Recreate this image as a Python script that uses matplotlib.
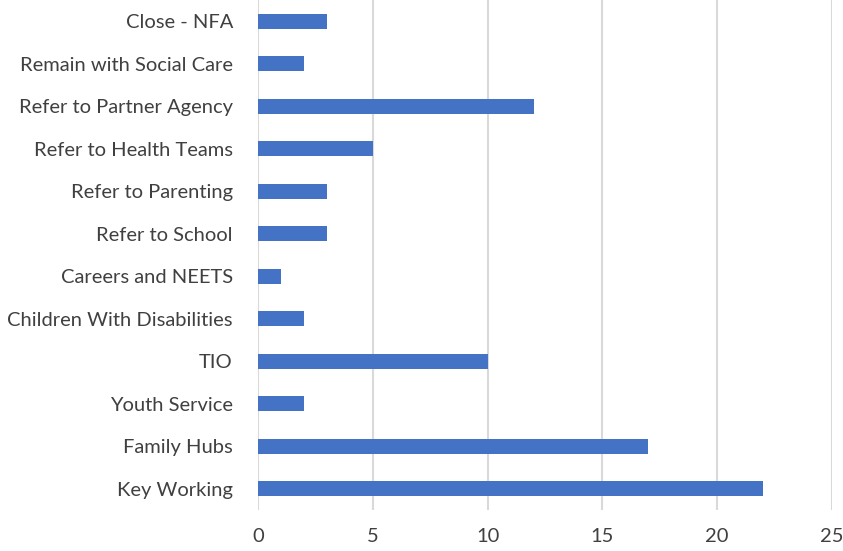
import matplotlib
matplotlib.use('Agg')
from matplotlib import pyplot as plt

plt.rcParams['font.family'] = ['Lato', 'DejaVu Sans']

categories = ['Key Working', 'Family Hubs', 'Youth Service', 'TIO',
              'Children With Disabilities', 'Careers and NEETS',
              'Refer to School', 'Refer to Parenting', 'Refer to Health Teams',
              'Refer to Partner Agency', 'Remain with Social Care', 'Close - NFA']
counts = [22, 17, 2, 10, 2, 1, 3, 3, 5, 12, 2, 3]
x_ticks = [0, 5, 10, 15, 20, 25]

fig = plt.figure(figsize=(8.43, 5.51), dpi=100)
ax = fig.add_axes([0.306, 0.0744, 0.681, 0.9256])

ax.barh(range(len(categories)), counts, height=0.35, color='#4472C4', zorder=3)

ax.set_xlim(0, 25)
ax.set_ylim(-0.5, len(categories) - 0.5)
ax.set_xticks(x_ticks)
ax.set_yticks(range(len(categories)))
ax.set_yticklabels(categories)

ax.grid(axis='x', color='#D9D9D9', linewidth=1.5, zorder=0)
ax.grid(axis='y', visible=False)
for s in ax.spines.values():
    s.set_visible(False)
ax.tick_params(axis='both', length=0, labelsize=14.5, colors='#404040')
ax.tick_params(axis='x', pad=13)
ax.tick_params(axis='y', pad=18)

plt.savefig('out.png', dpi=100)
plt.close(fig)
